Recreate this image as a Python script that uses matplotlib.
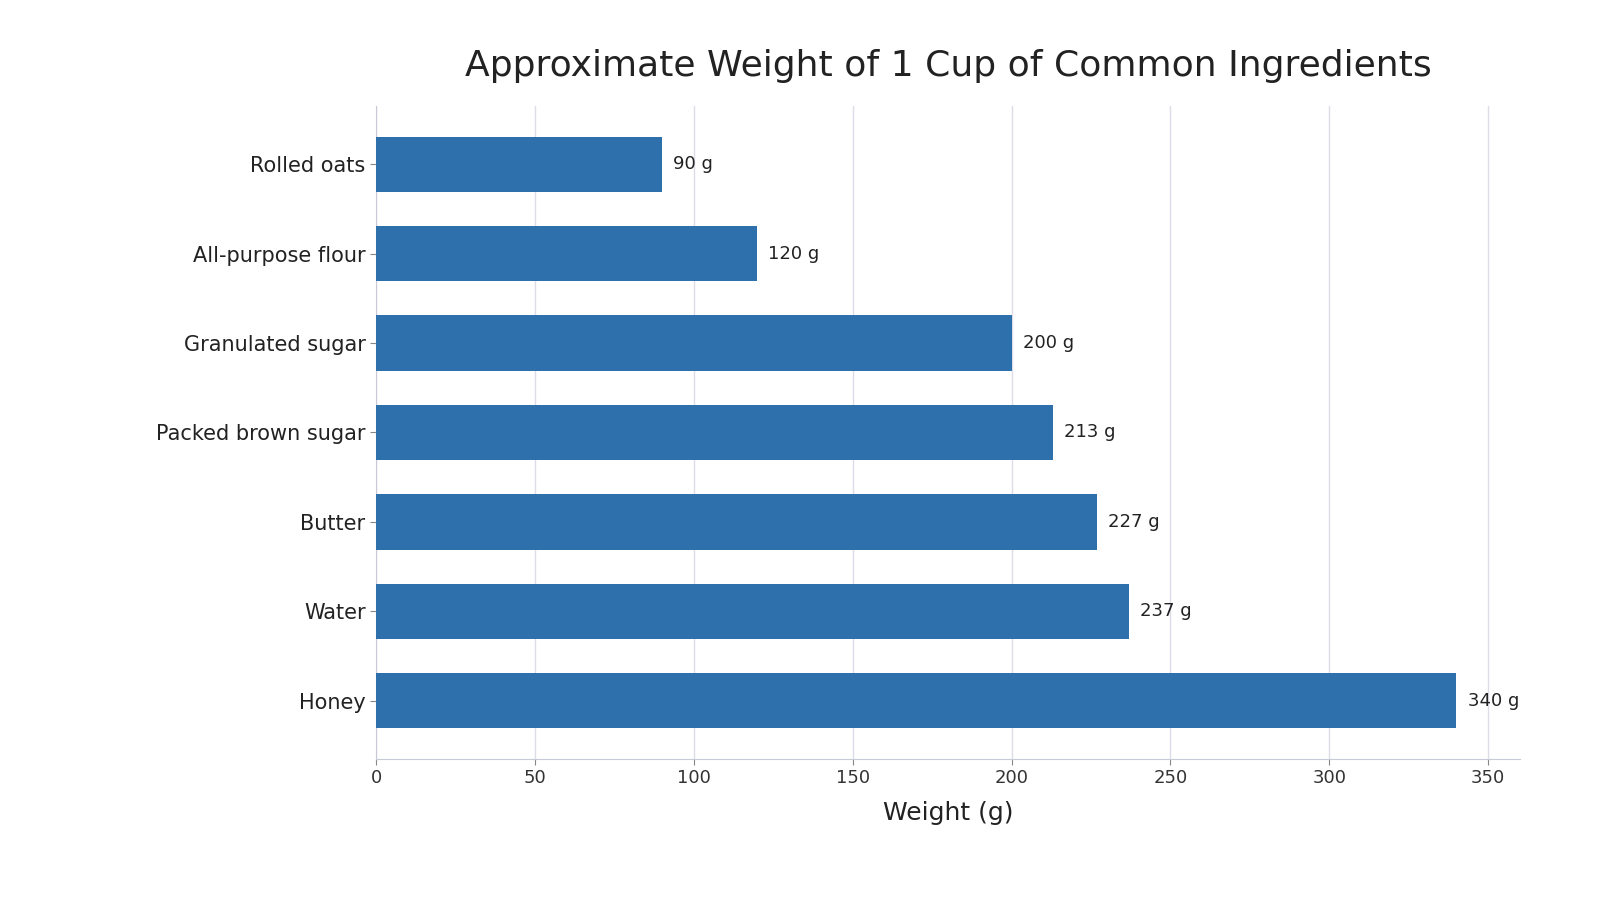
import matplotlib
matplotlib.use("Agg")
import matplotlib.pyplot as plt

ingredients = ["Rolled oats", "All-purpose flour", "Granulated sugar",
               "Packed brown sugar", "Butter", "Water", "Honey"]
weights = [90, 120, 200, 213, 227, 237, 340]

fig = plt.figure(figsize=(16, 9), dpi=100)
ax = fig.add_axes([0.235, 0.157, 0.715, 0.725])

ax.barh(ingredients, weights, height=0.62, color="#2e70ab", zorder=3)
ax.invert_yaxis()
for i, w in enumerate(weights):
    ax.text(w + 3.5, i, f"{w} g", va="center", ha="left", fontsize=13, color="#222222")

ax.set_xlim(0, 360)
ax.set_ylim(6.65, -0.65)
ax.set_xticks(range(0, 351, 50))
ax.grid(axis="x", color="#dcdde8", linewidth=1, zorder=0)
for s in ["top", "right"]:
    ax.spines[s].set_visible(False)
for s in ["left", "bottom"]:
    ax.spines[s].set_color("#c8cad8")
ax.tick_params(axis="y", labelsize=15, colors="#222222", length=4, color="#888888")
ax.tick_params(axis="x", labelsize=13, colors="#333333", length=4, color="#888888")
ax.set_xlabel("Weight (g)", fontsize=18, color="#222222", labelpad=10)
ax.set_title("Approximate Weight of 1 Cup of Common Ingredients",
             fontsize=26, color="#222222", pad=22)

fig.savefig("out.png", dpi=100)
